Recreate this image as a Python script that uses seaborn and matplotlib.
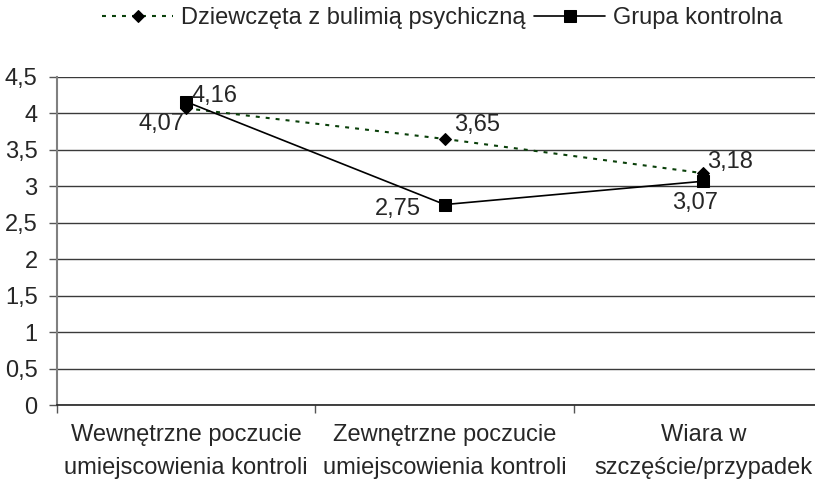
import matplotlib
matplotlib.use("Agg")
import matplotlib.pyplot as plt
import seaborn as sns
import pandas as pd
import numpy as np

categories = ["Wewnętrzne poczucie\numiejscowienia kontroli",
              "Zewnętrzne poczucie\numiejscowienia kontroli",
              "Wiara w\nszczęście/przypadek"]
series_names = ["Dziewczęta z bulimią psychiczną", "Grupa kontrolna"]
bulimia = [4.07, 3.65, 3.18]
control = [4.16, 2.75, 3.07]
y_ticks = [0, 0.5, 1, 1.5, 2, 2.5, 3, 3.5, 4, 4.5]

sns.set_theme(style="white")
plt.rcParams['font.family'] = ['Liberation Sans', 'DejaVu Sans']
FS = 17

x = np.arange(len(categories))
df_b = pd.DataFrame({"x": x, "y": bulimia})
df_c = pd.DataFrame({"x": x, "y": control})

fig = plt.figure(figsize=(8.15, 4.79), dpi=100)
ax = fig.add_axes([57/815, 74/479, (832.5-57)/815, 328/479])

sns.lineplot(data=df_b, x="x", y="y", ax=ax, color="#0a400a", linestyle=(0, (1.9, 2.9)),
             linewidth=1.5, marker="D", markersize=6, markerfacecolor="black",
             markeredgecolor="black", label=series_names[0], sort=False, zorder=3)
sns.lineplot(data=df_c, x="x", y="y", ax=ax, color="black", linestyle="-",
             linewidth=1.2, marker="s", markersize=8.5, markerfacecolor="black",
             markeredgecolor="black", label=series_names[1], sort=False, zorder=4)

ax.set_xlim(-0.5, 2.5)
ax.set_ylim(0, 4.5)
ax.set_yticks(y_ticks)
ax.set_yticklabels([("%g" % v).replace(".", ",") for v in y_ticks], fontsize=FS)
ax.grid(axis="y", color="#3a3a3a", linewidth=1)
ax.grid(axis="x", visible=False)
ax.set_axisbelow(True)

ax.set_xticks(x)
ax.set_xticklabels(categories, fontsize=FS, linespacing=1.65)
ax.set_xticks([-0.5, 0.5, 1.5, 2.5], minor=True)
ax.tick_params(axis="x", which="major", length=0, pad=14)
ax.tick_params(axis="x", which="minor", length=6, width=1, color="#555555", direction="out", bottom=True)
ax.tick_params(axis="y", length=6, width=1, color="#555555", direction="out", left=True, pad=8)
ax.set_xlabel("")
ax.set_ylabel("")

for s in ["top", "right"]:
    ax.spines[s].set_visible(False)
ax.spines["left"].set_color("#808080")
ax.spines["left"].set_linewidth(1.5)
ax.spines["bottom"].set_color("#222222")
ax.spines["bottom"].set_linewidth(1.2)

# data labels (offsets in points)
lab_b = [(-1, -11, "right"), (6.5, 10, "left"), (3, 8, "left")]
lab_c = [(4, 4, "left"), (-17, -3, "right"), (-6, -16, "center")]
for i, v in enumerate(bulimia):
    dx, dy, ha = lab_b[i]
    ax.annotate(("%.2f" % v).replace(".", ","), (x[i], v), xytext=(dx, dy),
                textcoords="offset points", ha=ha, va="center", fontsize=FS, zorder=5)
for i, v in enumerate(control):
    dx, dy, ha = lab_c[i]
    ax.annotate(("%.2f" % v).replace(".", ","), (x[i], v), xytext=(dx, dy),
                textcoords="offset points", ha=ha, va="center", fontsize=FS, zorder=5)

leg = ax.legend(loc="center", bbox_to_anchor=(442.5/815, 1 - 18/479), bbox_transform=fig.transFigure,
                ncol=2, frameon=False, fontsize=FS, handlelength=3.0, columnspacing=0.38,
                handletextpad=0.34, numpoints=1, borderpad=0, borderaxespad=0)

fig.savefig("out.png", dpi=100)
